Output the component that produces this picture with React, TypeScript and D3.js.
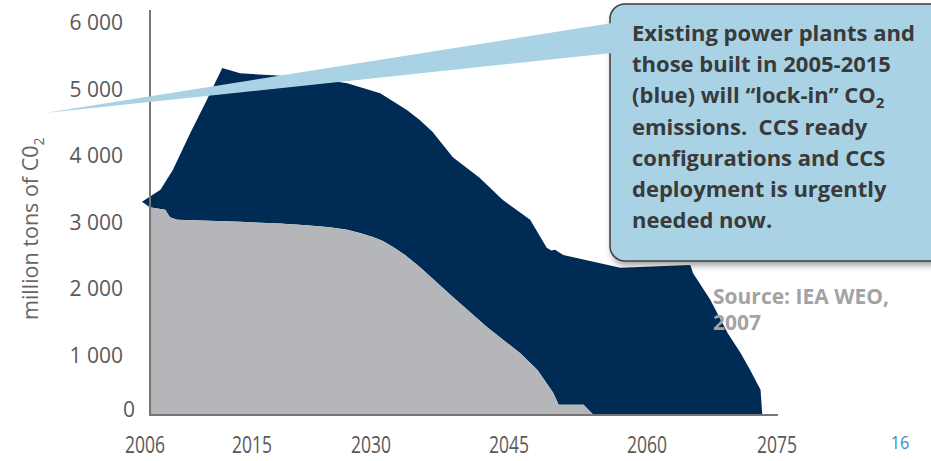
import React from 'react';
import * as d3 from 'd3';

const yearTicks = [2006, 2015, 2030, 2045, 2060, 2075];
const valueTicks = [0, 1000, 2000, 3000, 4000, 5000, 6000];

const totalYears = [2005.75, 2007.3, 2008.35, 2009.8, 2011.2, 2012.5, 2014.0, 2017.6, 2022.7, 2027.0, 2031.0, 2033.9, 2035.3, 2036.7, 2038.9, 2041.8, 2044.3, 2047.3, 2049.1, 2049.6, 2050.0, 2050.9, 2057.1, 2065.0, 2065.3, 2067.3, 2069.3, 2070.8, 2071.9, 2073.1, 2073.3];
const totalValues = [3300, 3480, 3780, 4330, 4830, 5310, 5230, 5200, 5160, 5080, 4930, 4680, 4530, 4350, 3970, 3660, 3330, 3030, 2610, 2570, 2580, 2500, 2310, 2350, 2230, 1830, 1330, 1030, 750, 420, 0];

const existingYears = [2006.4, 2007.7, 2008.1, 2008.7, 2014.0, 2018.5, 2021.9, 2024.8, 2027.0, 2028.6, 2030.2, 2031.3, 2032.4, 2033.7, 2035.3, 2038.9, 2042.6, 2046.2, 2048.1, 2049.8, 2050.4, 2053.1, 2054.2];
const existingValues = [3220, 3180, 3070, 3030, 3000, 2975, 2950, 2920, 2880, 2830, 2770, 2710, 2620, 2500, 2320, 1870, 1420, 1030, 750, 370, 170, 170, 0];

const calloutLines = [
  'Existing power plants and',
  'those built in 2005-2015',
  '(blue) will \u201clock-in\u201d CO',
  'emissions.  CCS ready',
  'configurations and CCS',
  'deployment is urgently',
  'needed now.',
];
const sourceLines = ['Source: IEA WEO,', '2007'];
const yLabel = 'million tons of C0';
const pageNumber = '16';

const W = 931;
const H = 461;

export default function App() {
  const x = d3.scaleLinear().domain(yearTicks).range([145, 252, 371, 509, 647, 777]);
  const y = d3.scaleLinear().domain([0, 1000, 6000]).range([415, 355, 22]);

  const total = totalYears.map((t, i) => [t, totalValues[i]] as [number, number]);
  const existing = existingYears.map((t, i) => [t, existingValues[i]] as [number, number]);

  const line = d3.line<[number, number]>().x(d => x(d[0])).y(d => y(d[1]));
  const darkPath = line([...total, ...existing.slice().reverse()]) + 'Z';
  const grayArea = d3.area<[number, number]>().x(d => x(d[0])).y0(y(0)).y1(d => y(d[1]))(existing);

  const axisX = 150;
  const textColor = '#595959';

  return (
    <svg width={W} height={H} style={{ position: 'absolute', left: 0, top: 0, background: '#fff' }}>
      <defs>
        <filter id="shadow" x="-10%" y="-10%" width="130%" height="130%">
          <feDropShadow dx="2" dy="4" stdDeviation="3" floodColor="#000" floodOpacity="0.35" />
        </filter>
      </defs>

      <path d={darkPath} fill="#002b54" />
      <path d={grayArea ?? ''} fill="#b5b6b9" />

      <line x1={axisX} x2={axisX} y1={10} y2={y(0)} stroke="#767676" strokeWidth={2} />
      <line x1={axisX - 1} x2={778} y1={y(0)} y2={y(0)} stroke="#767676" strokeWidth={2} />

      {valueTicks.map(v => (
        <text key={v}
          x={v === 0 ? 135 : 123}
          y={v === 0 ? y(v) - 6 : y(v)}
          textAnchor="end" dominantBaseline="central"
          fontFamily="'Open Sans', sans-serif" fontSize={21} fill={textColor}>
          {d3.format(',')(v).replace(',', ' ')}
        </text>
      ))}

      {yearTicks.map(t => (
        <text key={t} transform={`translate(${x(t)},453) scale(0.76,1)`} textAnchor="middle"
          fontFamily="'Open Sans', sans-serif" fontSize={23} fill={textColor}>
          {t}
        </text>
      ))}

      <text transform={`translate(38,320) rotate(-90)`} fontFamily="'Open Sans', sans-serif"
        fontSize={21.5} fill="#666">
        {yLabel}
        <tspan fontSize={14} dy={6}>2</tspan>
      </text>

      <rect x={610} y={4} width={340} height={257} rx={15} ry={15}
        fill="#a9d2e5" stroke="#3f3f3f" strokeWidth={1.5} filter="url(#shadow)" />
      <polygon points="45,113 612,23 612,53" fill="#a9d2e5" />

      <text fontFamily="'Open Sans', sans-serif" fontWeight="bold" fontSize={22} fill="#3a3a3a"
        style={{ whiteSpace: 'pre' }}>
        {calloutLines.map((l, i) => (
          <tspan key={i} x={632} y={41 + i * 31.2}>
            {l}
            {i === 2 ? <tspan fontSize={15} dy={5}>2</tspan> : null}
          </tspan>
        ))}
      </text>

      <text fontFamily="'Open Sans', sans-serif" fontWeight="bold" fontSize={21} fill="#a3a3a3">
        {sourceLines.map((l, i) => (
          <tspan key={i} x={713} y={304 + i * 26}>{l}</tspan>
        ))}
      </text>

      <text transform="translate(900,449) scale(0.85,1)" textAnchor="middle" fontFamily="'Open Sans', sans-serif" fontSize={19} fill="#3a8fc2">
        {pageNumber}
      </text>
    </svg>
  );
}
